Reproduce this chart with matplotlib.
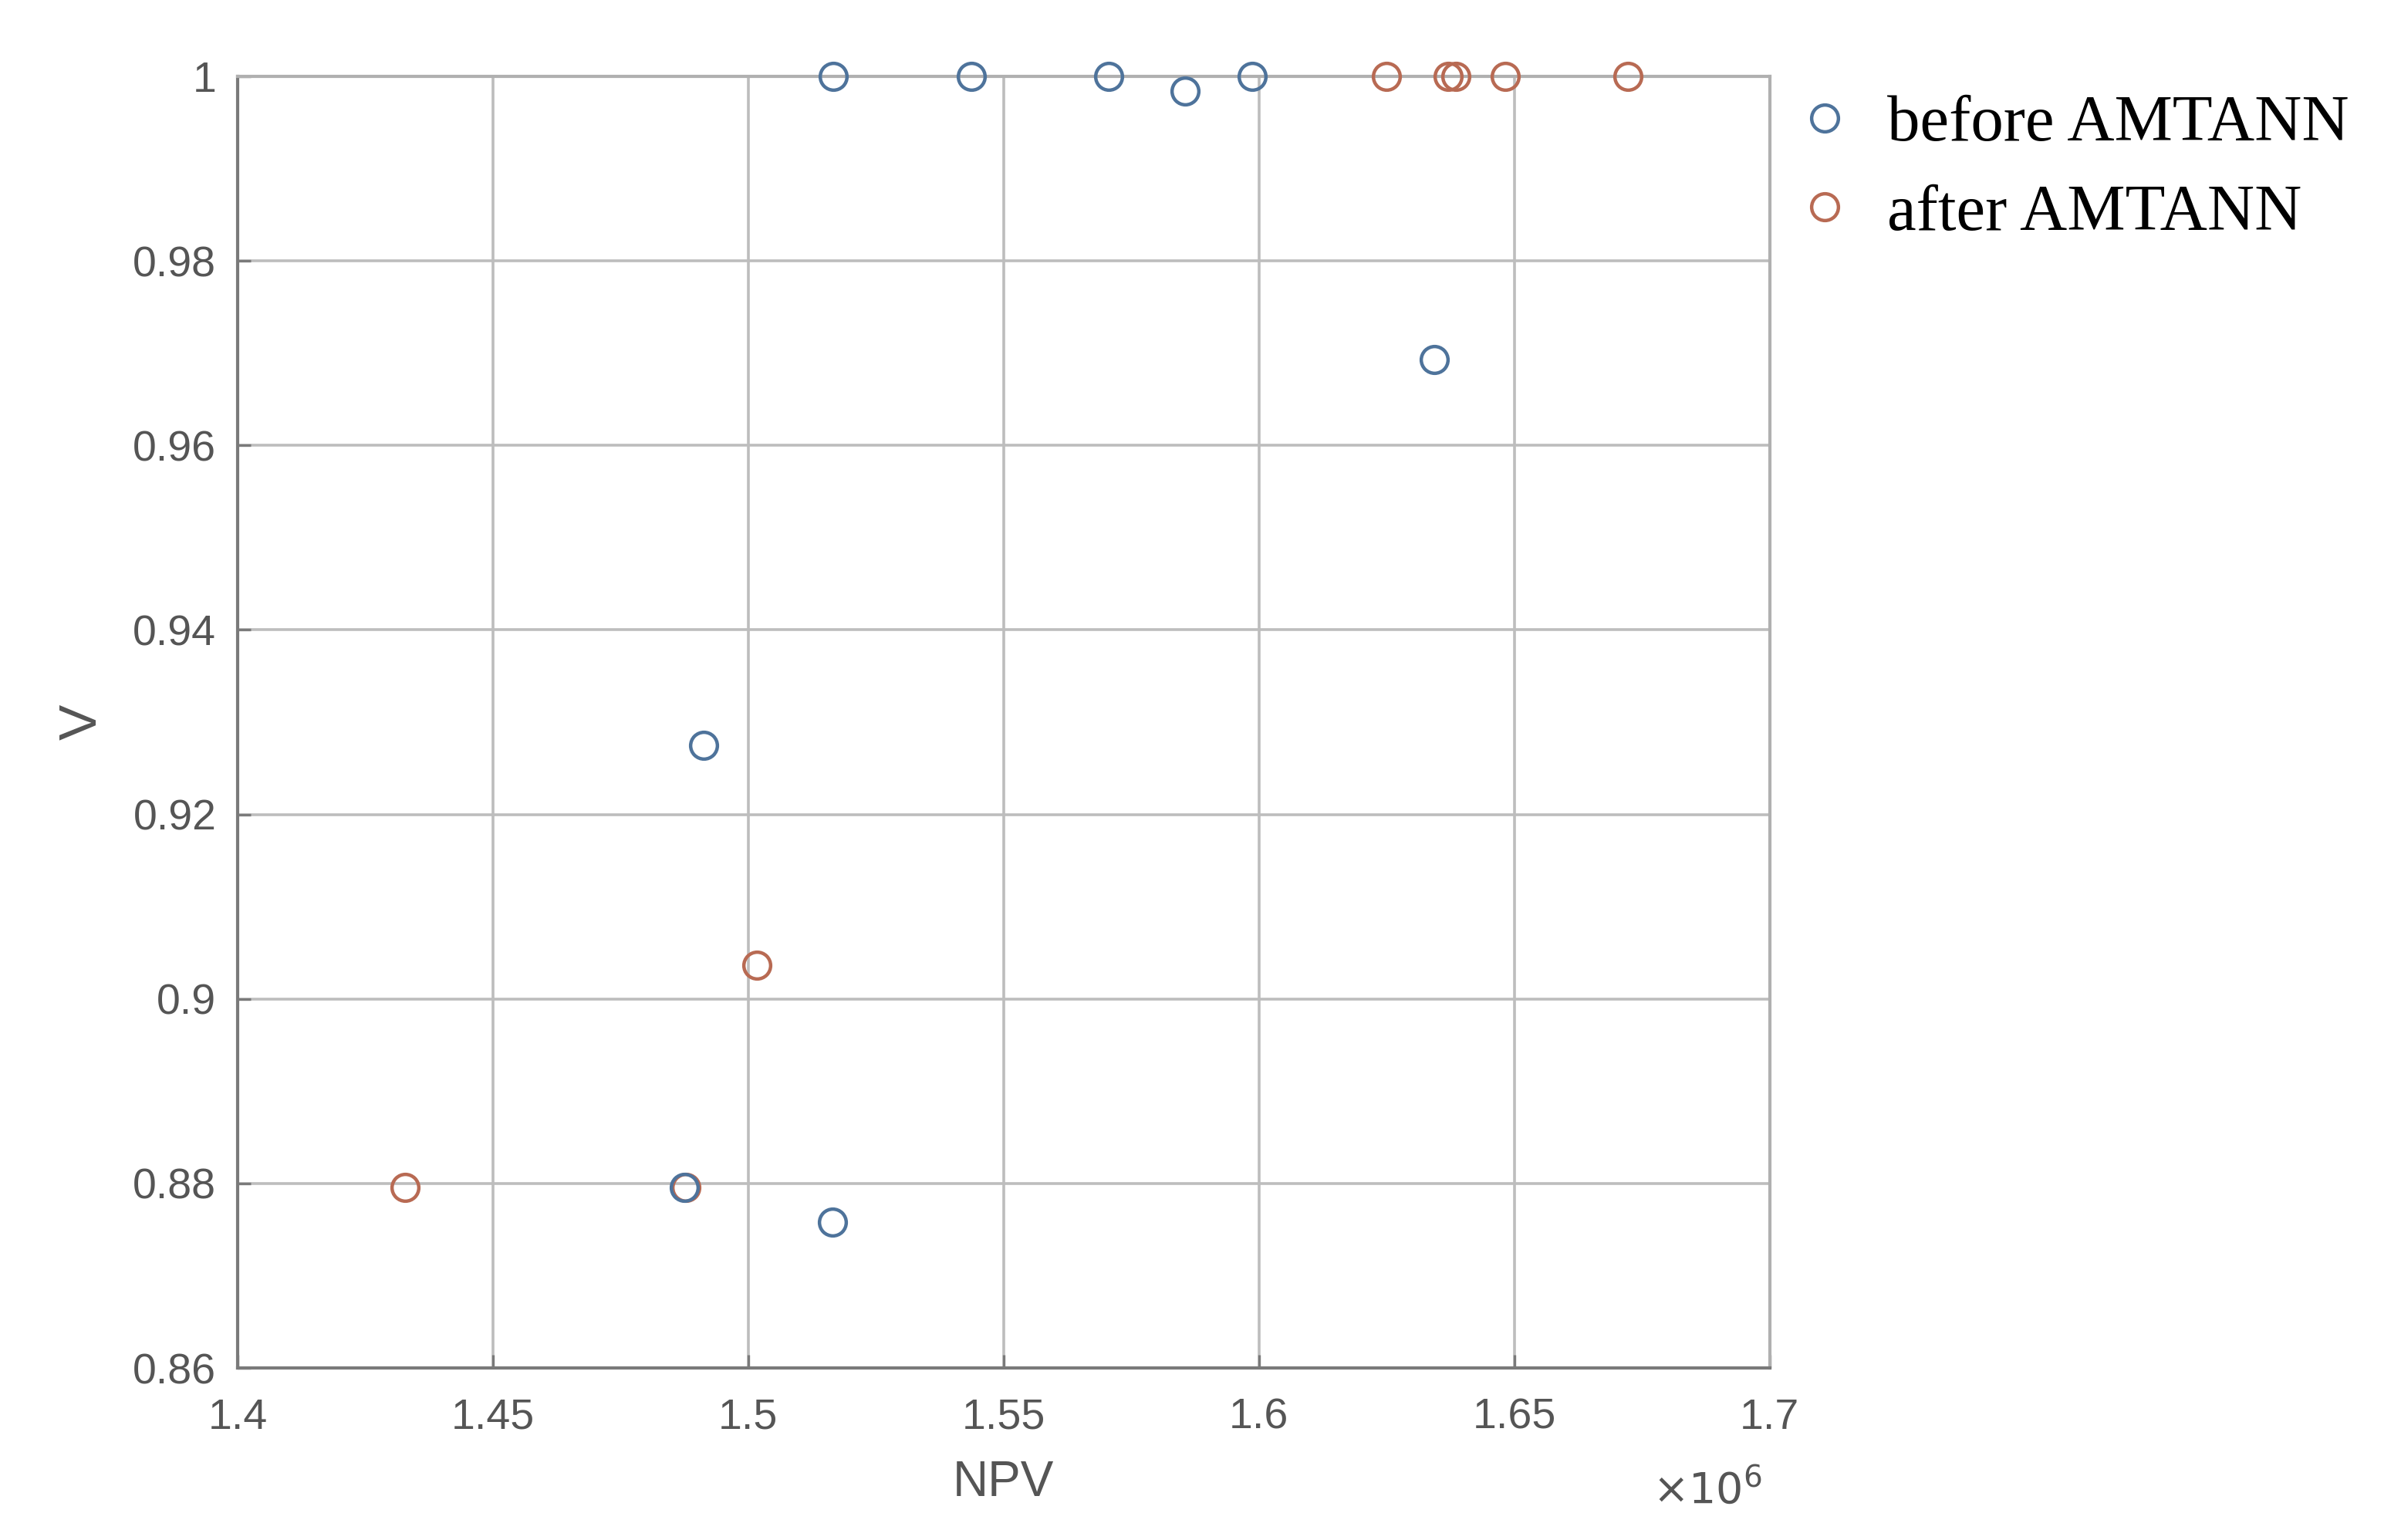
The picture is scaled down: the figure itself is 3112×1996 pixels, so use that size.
import numpy as np
import matplotlib
matplotlib.use("Agg")
import matplotlib.pyplot as plt

# NPV values (x1e6) and V values
before_npv = [1.5167, 1.5437, 1.5706, 1.5856, 1.5987, 1.6343, 1.4912, 1.4875, 1.5165]
before_v   = [1.0, 1.0, 1.0, 0.9984, 1.0, 0.9693, 0.9275, 0.8796, 0.8758]

after_npv = [1.6250, 1.6370, 1.6385, 1.6483, 1.6723, 1.5017, 1.4327, 1.4877]
after_v   = [1.0, 1.0, 1.0, 1.0, 1.0, 0.9037, 0.8796, 0.8796]

x_ticks = [1.4, 1.45, 1.5, 1.55, 1.6, 1.65, 1.7]
x_tick_labels = ['1.4', '1.45', '1.5', '1.55', '1.6', '1.65', '1.7']
y_ticks = [0.86, 0.88, 0.9, 0.92, 0.94, 0.96, 0.98, 1.0]
y_tick_labels = ['0.86', '0.88', '0.9', '0.92', '0.94', '0.96', '0.98', '1']

blue = '#4e739b'
orange = '#b86a53'
grey_txt = '#555555'

plt.rcParams['font.family'] = ['Liberation Sans', 'DejaVu Sans']

fig = plt.figure(figsize=(15.56, 9.98), dpi=200)
ax = fig.add_axes([0.099, 0.1117, 0.638, 0.8387])

ax.plot(after_npv, after_v, 'o', mfc='none', mec=orange, ms=12.5, mew=1.6,
        label='after AMTANN', zorder=3, clip_on=False)
ax.plot(before_npv, before_v, 'o', mfc='none', mec=blue, ms=12.5, mew=1.6,
        label='before AMTANN', zorder=4, clip_on=False)

ax.set_xlim(1.4, 1.7)
ax.set_ylim(0.86, 1.0)
ax.set_xticks(x_ticks)
ax.set_xticklabels(x_tick_labels)
ax.set_yticks(y_ticks)
ax.set_yticklabels(y_tick_labels)

ax.grid(True, color='#bdbdbd', linewidth=1.3)
ax.set_axisbelow(True)
for side in ['left', 'bottom']:
    ax.spines[side].set_color('#7a7a7a')
    ax.spines[side].set_linewidth(1.5)
for side in ['top', 'right']:
    ax.spines[side].set_color('#b0b0b0')
    ax.spines[side].set_linewidth(1.5)

ax.tick_params(direction='in', length=6, width=1.2, color='#7a7a7a',
               labelsize=20, labelcolor=grey_txt, pad=10)
ax.tick_params(axis='x', pad=14)

ax.set_xlabel('NPV', fontsize=23, color=grey_txt, labelpad=10)
ax.set_ylabel('V', fontsize=25, color=grey_txt, labelpad=12)
ax.text(0.995, -0.095, r'$\times 10^6$', transform=ax.transAxes,
        ha='right', va='center', fontsize=20, color=grey_txt,
        math_fontfamily='dejavusans')

handles, labels = ax.get_legend_handles_labels()
ax.legend(handles[::-1], labels[::-1], loc='upper left',
          bbox_to_anchor=(0.985, 1.016), frameon=False,
          prop={'family': 'Liberation Serif', 'size': 30.5},
          handletextpad=0.35, labelspacing=0.45, handlelength=1.2,
          borderaxespad=0.2)

fig.savefig('out.png', dpi=200, facecolor='white')
